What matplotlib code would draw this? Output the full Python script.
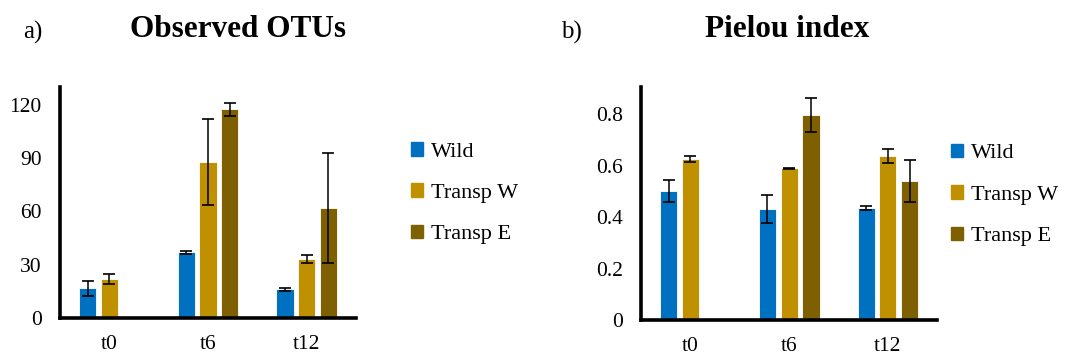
import matplotlib.pyplot as plt
import numpy as np
from matplotlib.patches import Patch

plt.rcParams["font.family"] = ["Liberation Serif", "DejaVu Serif"]

times = ["t0", "t6", "t12"]
groups = ["Wild", "Transp W", "Transp E"]
colors = ["#0070C0", "#BF9000", "#7F6000"]

# Observed OTUs (nan = no bar)
otu_wild = [16.7, 37.0, 16.1]
otu_wild_err = [4.3, 0.8, 0.7]
otu_tw = [21.8, 87.9, 33.0]
otu_tw_err = [2.9, 24.0, 2.2]
otu_te = [np.nan, 117.4, 61.8]
otu_te_err = [np.nan, 3.4, 31.0]

# Pielou index
pie_wild = [0.501, 0.431, 0.435]
pie_wild_err = [0.044, 0.053, 0.008]
pie_tw = [0.625, 0.590, 0.638]
pie_tw_err = [0.012, 0.002, 0.027]
pie_te = [np.nan, 0.797, 0.540]
pie_te_err = [np.nan, 0.065, 0.082]

fig = plt.figure(figsize=(10.65, 3.58), dpi=100)
ax1 = fig.add_axes([0.0563, 0.1117, 0.278, 0.645])
ax2 = fig.add_axes([0.602, 0.106, 0.278, 0.651])


def draw(ax, series, errs, ylim, yticks, ylabels):
    x = np.arange(len(times))
    step = 0.22
    for i, (vals, err) in enumerate(zip(series, errs)):
        ax.bar(x + (i - 1) * step, vals, width=0.175, color=colors[i],
               edgecolor="white", linewidth=0.6,
               yerr=err, capsize=4.5,
               error_kw=dict(ecolor="black", elinewidth=1.1, capthick=1.2))
    ax.set_xlim(-0.5, 2.5)
    ax.set_ylim(*ylim)
    ax.set_xticks(x)
    ax.set_xticklabels(times, fontsize=15.5)
    ax.set_yticks(yticks)
    ax.set_yticklabels(ylabels, fontsize=15.5)
    ax.tick_params(axis="y", length=0, pad=13)
    ax.tick_params(axis="x", length=0, pad=12)
    for s in ["top", "right"]:
        ax.spines[s].set_visible(False)
    for s in ["left", "bottom"]:
        ax.spines[s].set_linewidth(2.6)


draw(ax1, [otu_wild, otu_tw, otu_te], [otu_wild_err, otu_tw_err, otu_te_err],
     (0, 130), [0, 30, 60, 90, 120], ["0", "30", "60", "90", "120"])
draw(ax2, [pie_wild, pie_tw, pie_te], [pie_wild_err, pie_tw_err, pie_te_err],
     (0, 0.905), [0, 0.2, 0.4, 0.6, 0.8], ["0", "0.2", "0.4", "0.6", "0.8"])

handles = [Patch(color=c, label=g) for c, g in zip(colors, groups)]
for bx, by in [(0.386, 0.603), (0.893, 0.598)]:
    fig.legend(handles=handles, loc="upper left", bbox_to_anchor=(bx, by),
               frameon=False, fontsize=16, handlelength=0.55, handleheight=0.55,
               handletextpad=0.35, labelspacing=0.98, borderaxespad=0,
               borderpad=0)

fig.text(0.022, 0.908, "a)", fontsize=18, va="center")
fig.text(0.2235, 0.918, "Observed OTUs", fontsize=22.5, fontweight="bold",
         ha="center", va="center")
fig.text(0.527, 0.908, "b)", fontsize=18, va="center")
fig.text(0.739, 0.918, "Pielou index", fontsize=22.5, fontweight="bold",
         ha="center", va="center")

fig.savefig("out.png", dpi=100)
